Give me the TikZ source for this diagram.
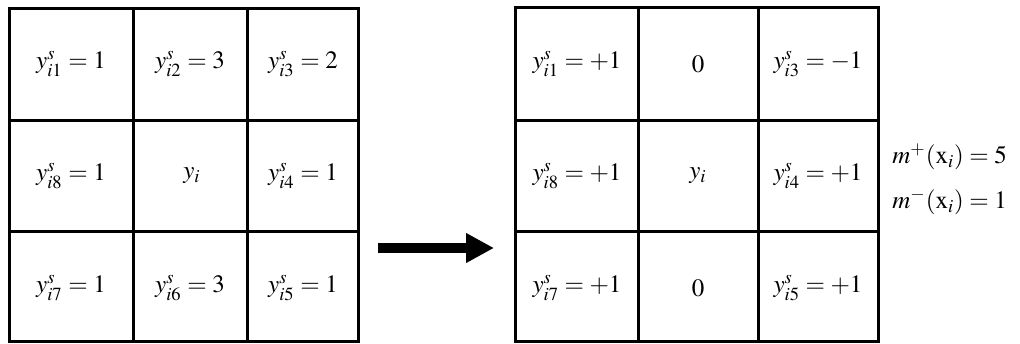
\documentclass[tikz,border=0pt]{standalone}
\usepackage{amsmath}
\usepackage{mathptmx}
\usepackage{tikz}
\usetikzlibrary{arrows.meta,positioning}
\definecolor{GridBlack}{HTML}{000000}
\definecolor{EdgeGray}{HTML}{808080}

\begin{document}
\begin{tikzpicture}[x=0.5pt,y=-0.5pt,
    celltext/.style={font=\fontsize{12.5}{15}\selectfont,inner sep=0pt},
    gridline/.style={draw=GridBlack,line width=1.5pt},
    bigarrow/.style={draw=GridBlack,line width=5pt,-{Triangle[length=14pt,width=14pt]}}]
  \useasboundingbox (0,0) rectangle (1020,343);
  % Draw the two grids by hand so the column widths can follow the original table.
  \draw[gridline] (9.5,8.5) rectangle (358.5,341.5);
  \draw[gridline] (133,8.5) -- (133,341.5) (247,8.5) -- (247,341.5);
  \draw[gridline] (9.5,120) -- (358.5,120) (9.5,231) -- (358.5,231);

  \node[celltext] (l1) at (71,64) {$y_{i1}^{s}=1$};
  \node[celltext] (l2) at (190,64) {$y_{i2}^{s}=3$};
  \node[celltext] (l3) at (303,64) {$y_{i3}^{s}=2$};
  \node[celltext] (l8) at (71,176) {$y_{i8}^{s}=1$};
  \node[celltext] (lc) at (192,176) {$y_{i}$};
  \node[celltext] (l4) at (303,176) {$y_{i4}^{s}=1$};
  \node[celltext] (l7) at (71,288) {$y_{i7}^{s}=1$};
  \node[celltext] (l6) at (190,288) {$y_{i6}^{s}=3$};
  \node[celltext] (l5) at (303,288) {$y_{i5}^{s}=1$};

  \draw[gridline] (515.5,7) rectangle (878.5,341.5);
  \draw[gridline] (638,7) -- (638,341.5) (758,7) -- (758,341.5);
  \draw[gridline] (515.5,120) -- (878.5,120) (515.5,231) -- (878.5,231);

  \node[celltext] (r1) at (577,64) {$y_{i1}^{s}=+1$};
  \node[celltext] (r2) at (698,64) {$0$};
  \node[celltext] (r3) at (818,64) {$y_{i3}^{s}=-1$};
  \node[celltext] (r8) at (577,176) {$y_{i8}^{s}=+1$};
  \node[celltext] (rc) at (698,176) {$y_{i}$};
  \node[celltext] (r4) at (818,176) {$y_{i4}^{s}=+1$};
  \node[celltext] (r7) at (577,288) {$y_{i7}^{s}=+1$};
  \node[celltext] (r6) at (698,288) {$0$};
  \node[celltext] (r5) at (818,288) {$y_{i5}^{s}=+1$};

  \node[celltext,anchor=west] (mplus) at (892,157) {$m^{+}(\mathrm{x}_{i})=5$};
  \node[celltext,anchor=north west] (mminus) at ([yshift=-9pt]mplus.south west) {$m^{-}(\mathrm{x}_{i})=1$};

  \coordinate (arrowstart) at (378,248);
  \coordinate (arrowend) at (494,248);
  \draw[bigarrow] (arrowstart) -- (arrowend);
\end{tikzpicture}
\end{document}
